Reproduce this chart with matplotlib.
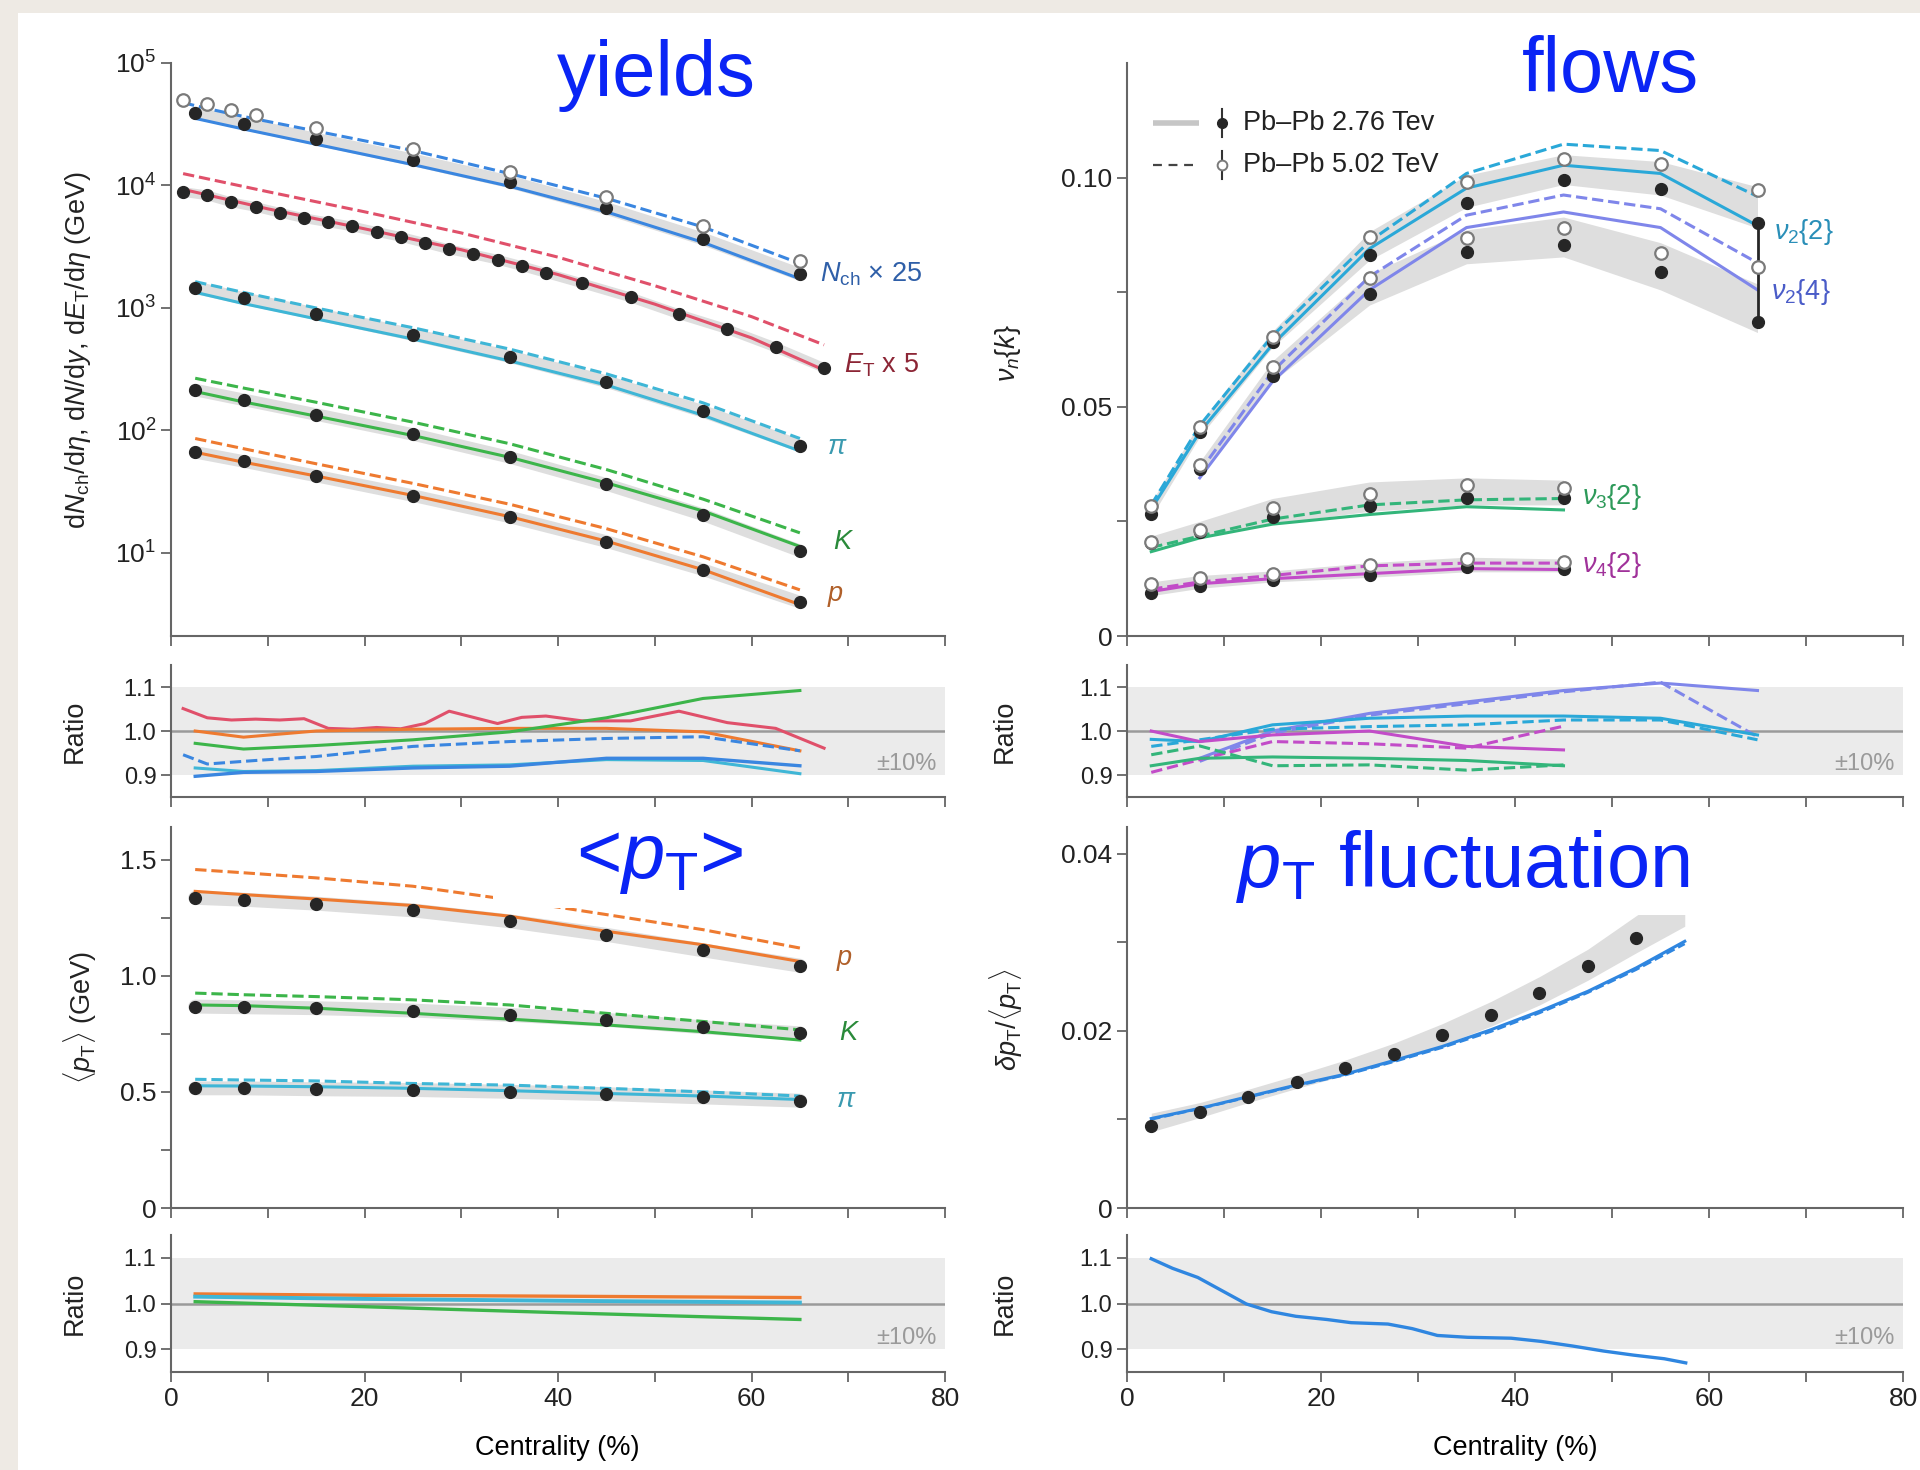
#!/usr/bin/env python3
"""Model vs data comparison: yields, flows, <pT> and pT fluctuations (+ ratio panels)."""

import matplotlib
matplotlib.use("Agg")
import matplotlib.pyplot as plt
from matplotlib.patches import Rectangle
from matplotlib.ticker import FixedLocator, MultipleLocator, NullLocator

plt.rcParams["font.family"] = ["Liberation Sans", "DejaVu Sans"]
plt.rcParams["mathtext.fontset"] = "custom"
plt.rcParams["mathtext.rm"] = "Liberation Sans"
plt.rcParams["mathtext.it"] = "Liberation Sans:italic"
plt.rcParams["mathtext.bf"] = "Liberation Sans:bold"
plt.rcParams["mathtext.sf"] = "Liberation Sans"

# ---------------------------------------------------------------- data
CENT = [2.5, 7.5, 15, 25, 35, 45, 55, 65]
CENT_NCH_502 = [1.25, 3.75, 6.25, 8.75, 15, 25, 35, 45, 55, 65]
CENT_ET = [1.25, 3.75, 6.25, 8.75, 11.25, 13.75, 16.25, 18.75, 21.25, 23.75, 26.25,
           28.75, 31.25, 33.75, 36.25, 38.75, 42.5, 47.5, 52.5, 57.5, 62.5, 67.5]
CENT_ET_MODEL = [1.25, 10, 20, 30, 40, 50, 60, 67.5]

# yields (Nch x 25, ET x 5, pi, K, p)
NCH_276 = [39200, 31900, 23900, 16200, 10700, 6490, 3660, 1880]
NCH_502 = [50100, 45900, 41300, 37400, 29500, 19990, 12800, 8000, 4640, 2420]
NCH_MODEL_276 = [35300, 28900, 21700, 14800, 9850, 6090, 3430, 1730]
NCH_MODEL_502 = [47400, 42500, 38400, 34900, 27800, 19300, 12500, 7860, 4580, 2310]

ET_276 = [8850, 8310, 7280, 6680, 5990, 5410, 5000, 4630, 4180, 3810, 3390,
          3010, 2740, 2480, 2200, 1930, 1590, 1220, 889, 671, 476, 324]
ET_MODEL_276 = [9300, 6450, 4430, 2990, 1875, 1075, 570, 311]
ET_MODEL_502 = [12500, 8900, 6100, 4100, 2600, 1520, 850, 500]

PI_276 = [1466, 1196, 896, 606, 401, 251, 143, 75]
PI_MODEL_276 = [1343, 1086, 815, 558, 370, 235, 133, 68]
PI_MODEL_502 = [1640, 1340, 1000, 690, 462, 290, 168, 86]

K_276 = [214, 178, 135, 92.9, 60.4, 36.3, 20.5, 10.4]
K_MODEL_276 = [208, 171, 131, 91, 60.4, 37.4, 22.0, 11.3]
K_MODEL_502 = [267, 222, 170, 117, 78, 48, 27.5, 14.6]

P_276 = [66.4, 55.9, 42.5, 29.4, 19.7, 12.4, 7.3, 3.97]
P_MODEL_276 = [66.4, 55.1, 42.5, 29.5, 19.8, 12.5, 7.3, 3.79]
P_MODEL_502 = [86, 71, 53.5, 37, 25, 15.8, 9.3, 5.0]

# yields ratio panel
ET_RATIO = [1.051, 1.030, 1.025, 1.027, 1.025, 1.028, 1.006, 1.004, 1.008, 1.005, 1.017,
            1.045, 1.031, 1.017, 1.031, 1.034, 1.023, 1.023, 1.045, 1.019, 1.006, 0.961]
NCH_RATIO_276 = [0.897, 0.906, 0.908, 0.916, 0.920, 0.938, 0.938, 0.921]
NCH_RATIO_502 = [0.946, 0.925, 0.929, 0.933, 0.942, 0.965, 0.976, 0.983, 0.987, 0.955]
PI_RATIO = [0.916, 0.908, 0.910, 0.920, 0.923, 0.935, 0.933, 0.903]
K_RATIO = [0.972, 0.959, 0.967, 0.980, 0.998, 1.030, 1.074, 1.092]
P_RATIO = [1.000, 0.986, 1.000, 1.004, 1.006, 1.006, 0.998, 0.955]

# flows
CENT_V24 = [7.5, 15, 25, 35, 45, 55, 65]
CENT_V3 = [2.5, 7.5, 15, 25, 35, 45]

V22_276 = [0.0266, 0.0445, 0.0641, 0.0832, 0.0945, 0.0994, 0.0975, 0.0900]
V22_502 = [0.0284, 0.0456, 0.0653, 0.0870, 0.0991, 0.1041, 0.1029, 0.0973]
V22_MODEL_276 = [0.0277, 0.0445, 0.0636, 0.0845, 0.0977, 0.1027, 0.1009, 0.0895]
V22_MODEL_502 = [0.0286, 0.0459, 0.0655, 0.0861, 0.1009, 0.1073, 0.1059, 0.0959]
V22_BAND_LO = [0.0260, 0.0435, 0.0630, 0.0820, 0.0935, 0.0985, 0.0962, 0.0890]
V22_BAND_HI = [0.0292, 0.0465, 0.0665, 0.0882, 0.1005, 0.1050, 0.1035, 0.0980]

V24_276 = [0.0364, 0.0568, 0.0745, 0.0838, 0.0852, 0.0795, 0.0686]
V24_502 = [0.0373, 0.0586, 0.0782, 0.0868, 0.0889, 0.0836, 0.0806]
V24_MODEL_276 = [0.0345, 0.0555, 0.0755, 0.0891, 0.0925, 0.0891, 0.0755]
V24_MODEL_502 = [0.0359, 0.0577, 0.0784, 0.0918, 0.0962, 0.0932, 0.0814]
V24_BAND_LO = [0.0355, 0.0555, 0.0722, 0.0812, 0.0827, 0.0755, 0.0662]
V24_BAND_HI = [0.0380, 0.0600, 0.0790, 0.0886, 0.0914, 0.0858, 0.0768]

V32_276 = [0.0202, 0.0227, 0.0259, 0.0284, 0.0302, 0.0300]
V32_502 = [0.0205, 0.0232, 0.0280, 0.0309, 0.0329, 0.0323]
V32_MODEL_276 = [0.0184, 0.0214, 0.0244, 0.0265, 0.0282, 0.0275]
V32_MODEL_502 = [0.0193, 0.0218, 0.0255, 0.0286, 0.0297, 0.0300]
V32_BAND_LO = [0.0192, 0.0215, 0.0245, 0.0272, 0.0286, 0.0286]
V32_BAND_HI = [0.0218, 0.0250, 0.0300, 0.0336, 0.0345, 0.0340]

V42_276 = [0.0093, 0.0109, 0.0123, 0.0132, 0.0150, 0.0147]
V42_502 = [0.0114, 0.0127, 0.0136, 0.0155, 0.0168, 0.0162]
V42_MODEL_276 = [0.0097, 0.0114, 0.0125, 0.0136, 0.0147, 0.0145]
V42_MODEL_502 = [0.0102, 0.0118, 0.0132, 0.0153, 0.0159, 0.0159]
V42_BAND_LO = [0.0088, 0.0104, 0.0118, 0.0128, 0.0140, 0.0140]
V42_BAND_HI = [0.0118, 0.0132, 0.0142, 0.0160, 0.0172, 0.0168]

# flows ratio panel
V22_RATIO_276 = [0.981, 0.976, 1.014, 1.029, 1.034, 1.034, 1.029, 0.991]
V22_RATIO_502 = [0.965, 0.980, 1.004, 1.010, 1.014, 1.025, 1.025, 0.980]
V24_RATIO_276 = [0.938, 1.000, 1.040, 1.066, 1.092, 1.109, 1.092]
V24_RATIO_502 = [0.931, 0.995, 1.036, 1.062, 1.089, 1.111, 0.987]
V32_RATIO_276 = [0.921, 0.938, 0.941, 0.938, 0.933, 0.921]
V32_RATIO_502 = [0.946, 0.966, 0.921, 0.923, 0.911, 0.923]
V42_RATIO_276 = [1.000, 0.976, 0.991, 1.000, 0.965, 0.957]
V42_RATIO_502 = [0.906, 0.935, 0.976, 0.971, 0.961, 1.011]

# <pT>
MPT_P_276 = [1.335, 1.327, 1.310, 1.281, 1.234, 1.176, 1.109, 1.043]
MPT_P_MODEL_276 = [1.363, 1.349, 1.330, 1.302, 1.256, 1.191, 1.133, 1.061]
MPT_P_MODEL_502 = [1.457, 1.443, 1.421, 1.385, 1.327, 1.263, 1.198, 1.119]
MPT_K_276 = [0.867, 0.864, 0.860, 0.850, 0.831, 0.810, 0.778, 0.752]
MPT_K_MODEL_276 = [0.874, 0.871, 0.860, 0.838, 0.813, 0.788, 0.759, 0.723]
MPT_K_MODEL_502 = [0.925, 0.918, 0.910, 0.896, 0.874, 0.838, 0.803, 0.767]
MPT_PI_276 = [0.515, 0.515, 0.511, 0.508, 0.500, 0.490, 0.476, 0.462]
MPT_PI_MODEL_276 = [0.526, 0.525, 0.522, 0.515, 0.505, 0.493, 0.482, 0.467]
MPT_PI_MODEL_502 = [0.554, 0.551, 0.547, 0.536, 0.529, 0.515, 0.500, 0.482]

MPT_RATIO_X = [2.5, 20, 40, 65]
MPT_P_RATIO = [1.021, 1.018, 1.016, 1.013]
MPT_PI_RATIO = [1.015, 1.010, 1.006, 1.002]
MPT_K_RATIO = [1.004, 0.993, 0.980, 0.965]

# pT fluctuations
FLUCT_X = [2.5, 7.5, 12.5, 17.5, 22.5, 27.5, 32.5, 37.5, 42.5, 47.5, 52.5]
FLUCT_DATA = [0.00925, 0.01087, 0.01257, 0.01419, 0.01577, 0.0174, 0.01947,
              0.02174, 0.02426, 0.02728, 0.03049]
FLUCT_BAND_X = [2.5, 7.5, 12.5, 17.5, 22.5, 27.5, 32.5, 37.5, 42.5, 47.5, 52.5, 57.5]
FLUCT_BAND_LO = [0.0086, 0.0102, 0.0119, 0.0135, 0.0150, 0.0165, 0.0184,
                 0.0205, 0.0229, 0.0257, 0.0288, 0.0318]
FLUCT_BAND_HI = [0.0107, 0.0119, 0.0134, 0.0150, 0.0167, 0.0186, 0.0208,
                 0.0233, 0.0261, 0.0292, 0.0330, 0.0365]
FLUCT_MODEL_X = [2.5, 7.5, 12.5, 17.5, 22.5, 27.5, 32.5, 37.5, 42.5, 47.5, 52.5, 57.5]
FLUCT_MODEL_276 = [0.0101, 0.01125, 0.01257, 0.01389, 0.0151, 0.01664, 0.01823,
                   0.02011, 0.02219, 0.02445, 0.0271, 0.0301]
FLUCT_MODEL_502 = [0.0100, 0.0112, 0.0125, 0.0138, 0.0150, 0.0165, 0.0181,
                   0.0199, 0.0220, 0.0243, 0.0269, 0.0298]

FLUCT_RATIO_X = [2.5, 4.7, 7.3, 9.8, 12.3, 14.9, 17.4, 20.6, 23.1, 26.9, 29.4,
                 32.0, 35.1, 39.6, 42.7, 45.9, 49.1, 52.2, 55.4, 57.6]
FLUCT_RATIO = [1.098, 1.077, 1.057, 1.028, 0.999, 0.982, 0.972, 0.965, 0.958, 0.955,
               0.945, 0.930, 0.926, 0.924, 0.917, 0.907, 0.896, 0.887, 0.879, 0.870]

# ---------------------------------------------------------------- style
W, H = 1920, 1470
TITLE_BLUE = "#0a24f5"
BAND = "#dedede"
DOT = "#262626"
OPEN_EDGE = "#7a7a7a"
SPINE = "#666666"

C_NCH, C_ET, C_PI, C_K, C_P = "#3a86e0", "#e0506a", "#3fb6d6", "#3cb54a", "#ee7a30"
C_V22, C_V24, C_V3, C_V4 = "#2aa8d8", "#7f86ea", "#33b57a", "#c24cc8"
C_FLUCT = "#2f86e0"

LEFT_X = (171, 945)
RIGHT_X = (1127, 1903)
ROW_MAIN1 = (63, 636)
ROW_RATIO1 = (665, 797)
ROW_MAIN2 = (827, 1208)
ROW_RATIO2 = (1235, 1372)


def rect(xs, ys):
    """Pixel extents (top-left origin) -> figure fraction rect."""
    return [xs[0] / W, 1 - ys[1] / H, (xs[1] - xs[0]) / W, (ys[1] - ys[0]) / H]


def style(ax, ticksize=19, xlabels=False):
    for s in ("top", "right"):
        ax.spines[s].set_visible(False)
    for s in ("left", "bottom"):
        ax.spines[s].set_color(SPINE)
        ax.spines[s].set_linewidth(1.5)
    ax.set_facecolor("none")
    ax.tick_params(which="both", direction="out", length=7, width=1.3, colors=SPINE,
                   labelcolor="#222222", labelsize=ticksize)
    ax.set_xlim(0, 80)
    ax.xaxis.set_major_locator(MultipleLocator(20))
    ax.xaxis.set_minor_locator(MultipleLocator(10))
    ax.tick_params(axis="x", labelbottom=xlabels, labelsize=19)


def ratio_axis(ax, xlabels=False):
    style(ax, ticksize=17, xlabels=xlabels)
    ax.set_ylim(0.85, 1.15)
    ax.yaxis.set_major_locator(FixedLocator([0.9, 1.0, 1.1]))
    ax.set_yticklabels(["0.9", "1.0", "1.1"])
    ax.axhspan(0.9, 1.1, color="#ebebeb", lw=0, zorder=0)
    ax.axhline(1.0, color="#9a9a9a", lw=1.8, zorder=1)
    ax.text(76, 0.925, "±10%", color="#9a9a9a", fontsize=17, ha="center", va="center")


def band(ax, x, y, lw=9):
    ax.plot(x, y, color=BAND, lw=lw, zorder=1, solid_capstyle="round")


def model(ax, x, y, color, dashed=False, lw=2.2):
    ax.plot(x, y, color=color, lw=lw, ls="--" if dashed else "-", zorder=3)


def data(ax, x, y, open_marker=False, ms=9):
    if open_marker:
        ax.plot(x, y, "o", ms=ms, mfc="white", mec=OPEN_EDGE, mew=1.6, ls="none", zorder=5)
    else:
        ax.plot(x, y, "o", ms=ms - 0.5, color=DOT, ls="none", zorder=4)


fig = plt.figure(figsize=(W / 100, H / 100), dpi=100)
fig.patch.set_facecolor("#eeeae4")
fig.add_artist(Rectangle((18 / W, 0), 1, 1 - 13 / H, transform=fig.transFigure,
                         facecolor="white", edgecolor="none", zorder=-1))

# ---------------------------------------------------------------- yields
ax = fig.add_axes(rect(LEFT_X, ROW_MAIN1))
style(ax)
ax.set_yscale("log")
ax.set_ylim(2.1, 1e5)
ax.yaxis.set_major_locator(FixedLocator([1e1, 1e2, 1e3, 1e4, 1e5]))
ax.yaxis.set_minor_locator(NullLocator())

for x, d, m276, col in [(CENT, NCH_276, NCH_MODEL_276, C_NCH), (CENT, PI_276, PI_MODEL_276, C_PI),
                        (CENT, K_276, K_MODEL_276, C_K), (CENT, P_276, P_MODEL_276, C_P)]:
    band(ax, x, d)
    model(ax, x, m276, col)
    data(ax, x, d)
model(ax, CENT_NCH_502, NCH_MODEL_502, C_NCH, dashed=True)
data(ax, CENT_NCH_502, NCH_502, open_marker=True)
model(ax, CENT, PI_MODEL_502, C_PI, dashed=True)
model(ax, CENT, K_MODEL_502, C_K, dashed=True)
model(ax, CENT, P_MODEL_502, C_P, dashed=True)
band(ax, CENT_ET, ET_276, lw=7)
model(ax, CENT_ET_MODEL, ET_MODEL_276, C_ET)
model(ax, CENT_ET_MODEL, ET_MODEL_502, C_ET, dashed=True)
data(ax, CENT_ET, ET_276)

lab = dict(fontsize=19.5, ha="left", va="center")
ax.text(67.1, 1880, r"$N_{\mathrm{ch}}$ × 25", color="#2f5fa8", **lab)
ax.text(69.6, 339, r"$E_{\mathrm{T}}$ x 5", color="#8c2535", **lab)
ax.text(67.8, 73.6, r"$\pi$", color="#3a9ab0", **lab)
ax.text(68.4, 12.3, r"$K$", color="#2a8a3a", **lab)
ax.text(67.8, 4.45, r"$p$", color="#b0602a", **lab)

ax = fig.add_axes(rect(LEFT_X, ROW_RATIO1))
ratio_axis(ax)
ax.plot(CENT_ET, ET_RATIO, color=C_ET, lw=2.2, zorder=3)
ax.plot(CENT, P_RATIO, color=C_P, lw=2.2, zorder=3)
ax.plot(CENT, K_RATIO, color=C_K, lw=2.2, zorder=3)
ax.plot(CENT_NCH_502, NCH_RATIO_502, color=C_NCH, lw=2.2, ls="--", zorder=3)
ax.plot(CENT, PI_RATIO, color=C_PI, lw=2.2, zorder=3)
ax.plot(CENT, NCH_RATIO_276, color=C_NCH, lw=2.4, zorder=3)

# ---------------------------------------------------------------- flows
ax = fig.add_axes(rect(RIGHT_X, ROW_MAIN1))
style(ax)
ax.set_ylim(0, 0.125)
ax.yaxis.set_major_locator(FixedLocator([0, 0.05, 0.10]))
ax.set_yticklabels(["0", "0.05", "0.10"])
ax.yaxis.set_minor_locator(FixedLocator([0.025, 0.075]))

flows = [
    (CENT, V22_276, V22_502, V22_MODEL_276, V22_MODEL_502, V22_BAND_LO, V22_BAND_HI, C_V22),
    (CENT_V24, V24_276, V24_502, V24_MODEL_276, V24_MODEL_502, V24_BAND_LO, V24_BAND_HI, C_V24),
    (CENT_V3, V32_276, V32_502, V32_MODEL_276, V32_MODEL_502, V32_BAND_LO, V32_BAND_HI, C_V3),
    (CENT_V3, V42_276, V42_502, V42_MODEL_276, V42_MODEL_502, V42_BAND_LO, V42_BAND_HI, C_V4),
]
for x, d276, d502, m276, m502, lo, hi, col in flows:
    ax.fill_between(x, lo, hi, color=BAND, lw=0, zorder=1)
    model(ax, x, m276, col)
    model(ax, x, m502, col, dashed=True)
    data(ax, x, d276)
    data(ax, x, d502, open_marker=True)
ax.vlines(CENT[-1], V24_276[-1], V22_276[-1], color=DOT, lw=2, zorder=4)

lab = dict(fontsize=19.5, ha="left", va="center")
ax.text(66.7, 0.0881, r"$\nu_2\{2\}$", color="#2a8fb8", **lab)
ax.text(66.4, 0.0750, r"$\nu_2\{4\}$", color="#4a5cc8", **lab)
ax.text(46.9, 0.0304, r"$\nu_3\{2\}$", color="#2e9a5a", **lab)
ax.text(46.9, 0.0155, r"$\nu_4\{2\}$", color="#a0329a", **lab)

# legend drawn by hand: line sample, marker with error bar, text
tr = ax.transAxes
for yy, dashed, label in [(0.895, False, "Pb–Pb 2.76 Tev"), (0.822, True, "Pb–Pb 5.02 TeV")]:
    if dashed:
        ax.plot([0.0335, 0.0928], [yy, yy], transform=tr, color="#444444", lw=1.6,
                ls=(0, (4, 3)), clip_on=False)
        ax.plot([0.1224], [yy], "o", transform=tr, ms=7, mfc="white", mec=OPEN_EDGE,
                mew=1.4, clip_on=False, zorder=6)
    else:
        ax.plot([0.0335, 0.0928], [yy, yy], transform=tr, color="#c6c6c6", lw=4,
                solid_capstyle="butt", clip_on=False)
        ax.plot([0.1224], [yy], "o", transform=tr, ms=7, color=DOT, clip_on=False, zorder=6)
    ax.plot([0.1224, 0.1224], [yy - 0.025, yy + 0.025], transform=tr, color="#333333",
            lw=1.5, clip_on=False, zorder=5)
    ax.text(0.1495, yy, label, transform=tr, fontsize=19.5, color="#222222",
            ha="left", va="center")

ax = fig.add_axes(rect(RIGHT_X, ROW_RATIO1))
ratio_axis(ax)
ax.plot(CENT_V24, V24_RATIO_276, color=C_V24, lw=2.2, zorder=3)
ax.plot(CENT_V24, V24_RATIO_502, color=C_V24, lw=2.2, ls="--", zorder=3)
ax.plot(CENT, V22_RATIO_276, color=C_V22, lw=2.2, zorder=3)
ax.plot(CENT, V22_RATIO_502, color=C_V22, lw=2.2, ls="--", zorder=3)
ax.plot(CENT_V3, V42_RATIO_276, color=C_V4, lw=2.2, zorder=3)
ax.plot(CENT_V3, V42_RATIO_502, color=C_V4, lw=2.2, ls="--", zorder=3)
ax.plot(CENT_V3, V32_RATIO_276, color=C_V3, lw=2.2, zorder=3)
ax.plot(CENT_V3, V32_RATIO_502, color=C_V3, lw=2.2, ls="--", zorder=3)

# ---------------------------------------------------------------- <pT>
ax = fig.add_axes(rect(LEFT_X, ROW_MAIN2))
style(ax)
ax.set_ylim(0, 1.64)
ax.yaxis.set_major_locator(FixedLocator([0, 0.5, 1.0, 1.5]))
ax.set_yticklabels(["0", "0.5", "1.0", "1.5"])
ax.yaxis.set_minor_locator(FixedLocator([0.25, 0.75, 1.25]))
for d, m276, m502, col in [(MPT_P_276, MPT_P_MODEL_276, MPT_P_MODEL_502, C_P),
                           (MPT_K_276, MPT_K_MODEL_276, MPT_K_MODEL_502, C_K),
                           (MPT_PI_276, MPT_PI_MODEL_276, MPT_PI_MODEL_502, C_PI)]:
    band(ax, CENT, d, lw=10)
    model(ax, CENT, m276, col)
    model(ax, CENT, m502, col, dashed=True)
    data(ax, CENT, d)
lab = dict(fontsize=19.5, ha="left", va="center")
ax.text(68.7, 1.069, r"$p$", color="#b0602a", **lab)
ax.text(69.0, 0.754, r"$K$", color="#2a8a3a", **lab)
ax.text(68.7, 0.466, r"$\pi$", color="#3a9ab0", **lab)

ax = fig.add_axes(rect(LEFT_X, ROW_RATIO2))
ratio_axis(ax, xlabels=True)
ax.plot(MPT_RATIO_X, MPT_P_RATIO, color=C_P, lw=2.4, zorder=3)
ax.plot(MPT_RATIO_X, MPT_PI_RATIO, color=C_PI, lw=2.8, zorder=3)
ax.plot(MPT_RATIO_X, MPT_K_RATIO, color=C_K, lw=2.4, zorder=3)

# ---------------------------------------------------------------- pT fluctuation
ax = fig.add_axes(rect(RIGHT_X, ROW_MAIN2))
style(ax)
ax.set_ylim(0, 0.043)
ax.yaxis.set_major_locator(FixedLocator([0, 0.02, 0.04]))
ax.set_yticklabels(["0", "0.02", "0.04"])
ax.yaxis.set_minor_locator(FixedLocator([0.01, 0.03]))
ax.fill_between(FLUCT_BAND_X, FLUCT_BAND_LO, FLUCT_BAND_HI, color=BAND, lw=0, zorder=1)
model(ax, FLUCT_MODEL_X, FLUCT_MODEL_276, C_FLUCT)
model(ax, FLUCT_MODEL_X, FLUCT_MODEL_502, C_FLUCT, dashed=True, lw=1.8)
data(ax, FLUCT_X, FLUCT_DATA)

ax = fig.add_axes(rect(RIGHT_X, ROW_RATIO2))
ratio_axis(ax, xlabels=True)
ax.plot(FLUCT_RATIO_X, FLUCT_RATIO, color=C_FLUCT, lw=2.4, zorder=3)

# ---------------------------------------------------------------- labels / titles
ylab = dict(fontsize=19.5, rotation=90, ha="center", va="center", color="#222222")
fig.text(78 / W, 1 - 350 / H,
         r"d$N_{\mathrm{ch}}$/d$\eta$, d$N$/d$y$, d$E_{\mathrm{T}}$/d$\eta$ (GeV)", **ylab)
fig.text(75 / W, 1 - 731 / H, "Ratio", **ylab)
fig.text(80 / W, 1 - 1017 / H, r"$\langle p_{\mathrm{T}}\rangle$ (GeV)", **ylab)
fig.text(75 / W, 1 - 1303 / H, "Ratio", **ylab)
fig.text(1008 / W, 1 - 353 / H, r"$\nu_n\{k\}$", **ylab)
fig.text(1005 / W, 1 - 731 / H, "Ratio", **ylab)
fig.text(1006 / W, 1 - 1020 / H, r"$\delta p_{\mathrm{T}}/\langle p_{\mathrm{T}}\rangle$", **ylab)
fig.text(1005 / W, 1 - 1303 / H, "Ratio", **ylab)
fig.text(557 / W, 1 - 1448 / H, "Centrality (%)", fontsize=19.5, ha="center", va="center")
fig.text(1515 / W, 1 - 1448 / H, "Centrality (%)", fontsize=19.5, ha="center", va="center")

# white text boxes of the slide titles
for x0, x1, y0, y1 in [(493, 760, 830, 908), (1190, 1700, 830, 915)]:
    fig.add_artist(Rectangle((x0 / W, 1 - y1 / H), (x1 - x0) / W, (y1 - y0) / H,
                             transform=fig.transFigure, facecolor="white",
                             edgecolor="none", zorder=4))

ttl = dict(fontsize=56, color=TITLE_BLUE, ha="left", va="baseline", zorder=5)
fig.text(557 / W, 1 - 96 / H, "yields", **ttl)
fig.text(1522 / W, 1 - 92 / H, "flows", **ttl)
fig.text(576 / W, 1 - 878 / H, r"<$p_{\mathrm{T}}$>", **ttl)
fig.text(1236 / W, 1 - 887 / H, r"$p_{\mathrm{T}}$ fluctuation", **ttl)

fig.savefig("out.png", dpi=100, facecolor=fig.get_facecolor())
